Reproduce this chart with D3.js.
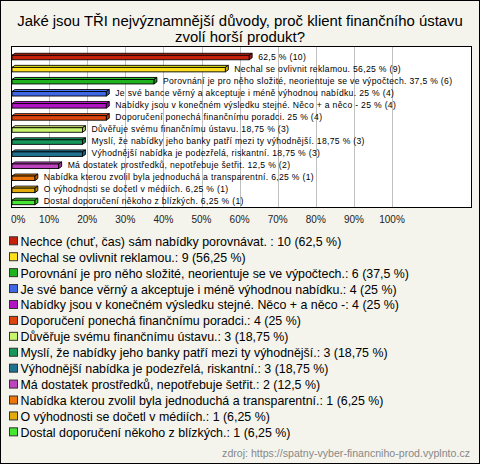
<!DOCTYPE html>
<html><head><meta charset="utf-8">
<script src="https://cdn.jsdelivr.net/npm/d3@7"></script>
<style>html,body{margin:0;padding:0;background:#fff}svg{display:block}</style>
</head><body>
<script>
const categories = [
  "Nechce (chuť, čas) sám nabídky porovnávat. ",
  "Nechal se ovlivnit reklamou.",
  "Porovnání je pro něho složité, neorientuje se ve výpočtech.",
  "Je své bance věrný a akceptuje i méně výhodnou nabídku.",
  "Nabídky jsou v konečném výsledku stejné. Něco + a něco -",
  "Doporučení ponechá finančnímu poradci.",
  "Důvěřuje svému finančnímu ústavu.",
  "Myslí, že nabídky jeho banky patří mezi ty výhodnější.",
  "Výhodnější nabídka je podezřelá, riskantní.",
  "Má dostatek prostředků, nepotřebuje šetřit.",
  "Nabídka kterou zvolil byla jednoduchá a transparentní.",
  "O výhodnosti se dočetl v médiích.",
  "Dostal doporučení někoho z blízkých."
];
const counts = [10, 9, 6, 4, 4, 4, 3, 3, 3, 2, 1, 1, 1];
const percents = [62.5, 56.25, 37.5, 25, 25, 25, 18.75, 18.75, 18.75, 12.5, 6.25, 6.25, 6.25];
const barLabels = [
  "62,5 % (10)",
  "Nechal se ovlivnit reklamou. 56,25 % (9)",
  "Porovnání je pro něho složité, neorientuje se ve výpočtech. 37,5 % (6)",
  "Je své bance věrný a akceptuje i méně výhodnou nabídku. 25 % (4)",
  "Nabídky jsou v konečném výsledku stejné. Něco + a něco - 25 % (4)",
  "Doporučení ponechá finančnímu poradci. 25 % (4)",
  "Důvěřuje svému finančnímu ústavu. 18,75 % (3)",
  "Myslí, že nabídky jeho banky patří mezi ty výhodnější. 18,75 % (3)",
  "Výhodnější nabídka je podezřelá, riskantní. 18,75 % (3)",
  "Má dostatek prostředků, nepotřebuje šetřit. 12,5 % (2)",
  "Nabídka kterou zvolil byla jednoduchá a transparentní. 6,25 % (1)",
  "O výhodnosti se dočetl v médiích. 6,25 % (1)",
  "Dostal doporučení někoho z blízkých. 6,25 % (1)"
];
const legendLabels = [
  "Nechce (chuť, čas) sám nabídky porovnávat. : 10 (62,5 %)",
  "Nechal se ovlivnit reklamou.: 9 (56,25 %)",
  "Porovnání je pro něho složité, neorientuje se ve výpočtech.: 6 (37,5 %)",
  "Je své bance věrný a akceptuje i méně výhodnou nabídku.: 4 (25 %)",
  "Nabídky jsou v konečném výsledku stejné. Něco + a něco -: 4 (25 %)",
  "Doporučení ponechá finančnímu poradci.: 4 (25 %)",
  "Důvěřuje svému finančnímu ústavu.: 3 (18,75 %)",
  "Myslí, že nabídky jeho banky patří mezi ty výhodnější.: 3 (18,75 %)",
  "Výhodnější nabídka je podezřelá, riskantní.: 3 (18,75 %)",
  "Má dostatek prostředků, nepotřebuje šetřit.: 2 (12,5 %)",
  "Nabídka kterou zvolil byla jednoduchá a transparentní.: 1 (6,25 %)",
  "O výhodnosti se dočetl v médiích.: 1 (6,25 %)",
  "Dostal doporučení někoho z blízkých.: 1 (6,25 %)"
];
const colors = ["#c4200c","#ffe01a","#1fb41f","#3f68e6","#b214c4","#e0440e","#c8f46e","#16985a","#1f7392","#be44be","#ec760a","#e2aa0a","#46e632"];
const tickValues = [0,10,20,30,40,50,60,70,80,90,100];
const tickLabels = ["0%","10%","20%","30%","40%","50%","60%","70%","80%","90%","100%"];
const title = ["Jaké jsou TŘI nejvýznamnější důvody, proč klient finančního ústavu","zvolí horší produkt?"];
const source = "zdroj: https://spatny-vyber-financniho-prod.vyplnto.cz";

const W = 480, H = 464;
const svg = d3.select("body").append("svg").attr("width", W).attr("height", H);
svg.append("rect").attr("x",0.5).attr("y",0.5).attr("width",W-1).attr("height",H-1)
  .attr("fill","#f4f4ec").attr("stroke","#000");

svg.selectAll("text.title").data(title).join("text").attr("class","title")
  .attr("x", 240).attr("y",(d,i)=>26+i*16).attr("text-anchor","middle")
  .attr("font-family","Liberation Sans, Arial, sans-serif").attr("font-size",14.9).attr("fill","#000")
  .text(d=>d);

const plot = {x0:11, x1:471, y0:46, y1:207};
const x = d3.scaleLinear().domain([0,100]).range([11,392]);
const y = d3.scaleBand().domain(d3.range(categories.length)).range([50,207]);

svg.append("rect").attr("x",plot.x0+0.5).attr("y",plot.y0+0.5)
  .attr("width",plot.x1-plot.x0).attr("height",plot.y1-plot.y0).attr("fill","#fff");

svg.append("g").selectAll("line").data(tickValues.slice(1)).join("line")
  .attr("x1",d=>Math.round(x(d))+0.5).attr("x2",d=>Math.round(x(d))+0.5)
  .attr("y1",plot.y0).attr("y2",plot.y1).attr("stroke","#c0c0c0").attr("stroke-width",1);

svg.append("rect").attr("x",plot.x0+0.5).attr("y",plot.y0+0.5)
  .attr("width",plot.x1-plot.x0).attr("height",plot.y1-plot.y0).attr("fill","none").attr("stroke","#000");

// bars with pseudo 3D
const dx = 3, dy = 2, fh = 4.5;
const bars = svg.append("g").selectAll("g").data(percents).join("g");
bars.each(function(p,i){
  const g = d3.select(this);
  const cy = y(i) + y.bandwidth()/2 + 0.5;
  const xa = x(0)+1, xb = x(p);
  const top = cy - fh/2 + 1, bot = top + fh;
  const c = d3.color(colors[i]);
  g.append("path").attr("d",`M${xa},${top}L${xa+dx},${top-dy}L${xb+dx},${top-dy}L${xb},${top}Z`)
    .attr("fill",c.brighter(0.4)).attr("stroke","#000").attr("stroke-width",0.9).attr("stroke-linejoin","round");
  g.append("path").attr("d",`M${xb},${top}L${xb+dx},${top-dy}L${xb+dx},${bot-dy}L${xb},${bot}Z`)
    .attr("fill",c.darker(0.6)).attr("stroke","#000").attr("stroke-width",0.9).attr("stroke-linejoin","round");
  g.append("rect").attr("x",xa).attr("y",top).attr("width",xb-xa).attr("height",fh)
    .attr("fill",c).attr("stroke","#000").attr("stroke-width",0.9);
  g.append("text").attr("x",xb+dx+6).attr("y",cy+3)
    .attr("font-family","Liberation Sans, Arial, sans-serif").attr("font-size",8.6)
    .attr("letter-spacing",0.32).attr("fill","#000")
    .text(barLabels[i]);
});

svg.append("g").selectAll("text").data(tickValues).join("text")
  .attr("x",d=>x(d)).attr("y",223)
  .attr("text-anchor",(d,i)=> i===0 ? "start" : "middle")
  .attr("font-family","Liberation Sans, Arial, sans-serif").attr("font-size",10).attr("fill","#222")
  .text((d,i)=>tickLabels[i]);

const leg = svg.append("g").selectAll("g").data(legendLabels).join("g")
  .attr("transform",(d,i)=>`translate(0,${241.3 + i*15.92})`);
leg.append("rect").attr("x",9.5).attr("y",-4.5).attr("width",8).attr("height",8)
  .attr("fill",(d,i)=>colors[i]).attr("stroke","#333").attr("stroke-width",1);
leg.append("text").attr("x",20.5).attr("y",4.5)
  .attr("font-family","Liberation Sans, Arial, sans-serif").attr("font-size",12.4).attr("fill","#000")
  .text(d=>d);

svg.append("text").attr("x",470).attr("y",457).attr("text-anchor","end")
  .attr("font-family","Liberation Sans, Arial, sans-serif").attr("font-size",10.6).attr("fill","#888")
  .text(source);
</script>
</body></html>
